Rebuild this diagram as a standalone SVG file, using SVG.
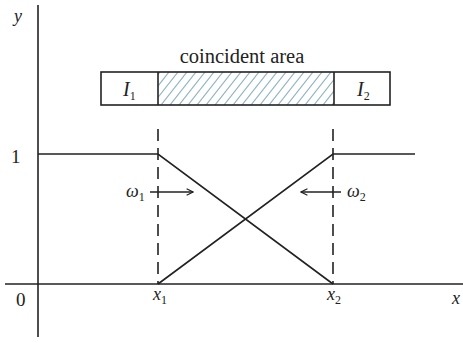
<svg xmlns="http://www.w3.org/2000/svg" width="463" height="343" viewBox="0 0 463 343">
<style>
.ln{stroke:#222;stroke-width:1.6;fill:none}
.ds{stroke:#222;stroke-width:1.6;fill:none;stroke-dasharray:12 7}
.t{font-family:"Liberation Serif","DejaVu Serif",serif;fill:#222}
.it{font-family:"Liberation Serif","DejaVu Serif",serif;font-style:italic;fill:#222}
.h{stroke:#8fb3c4;stroke-width:1.2}
</style>
<defs>
<marker id="ah" viewBox="0 0 10 10" refX="9" refY="5" markerWidth="8" markerHeight="8" orient="auto" markerUnits="userSpaceOnUse">
<path d="M1,1 L9,5 L1,9" fill="none" stroke="#222" stroke-width="1.4"/>
</marker>
<clipPath id="cp"><rect x="158" y="72" width="176" height="33"/></clipPath>
</defs>
<rect width="463" height="343" fill="#fff"/>
<g id="axes">
<line class="ln" x1="38" y1="5" x2="38" y2="337"/>
<line class="ln" x1="5" y1="284" x2="463" y2="284"/>
<text class="it" x="14" y="22" font-size="18">y</text>
<text class="t" x="11" y="163" font-size="19">1</text>
<text class="t" x="16" y="306" font-size="19">0</text>
<text class="it" x="452" y="304" font-size="18">x</text>
<text class="it" x="153" y="300" font-size="18">x<tspan font-size="12" font-style="normal" dy="4">1</tspan></text>
<text class="it" x="327" y="300" font-size="18">x<tspan font-size="12" font-style="normal" dy="4">2</tspan></text>
</g>
<g id="bar">
<text class="t" x="242" y="63" font-size="20.5" text-anchor="middle">coincident area</text>
<g clip-path="url(#cp)">
<line class="h" x1="134" y1="105" x2="160" y2="72"/>
<line class="h" x1="143" y1="105" x2="169" y2="72"/>
<line class="h" x1="152" y1="105" x2="178" y2="72"/>
<line class="h" x1="161" y1="105" x2="187" y2="72"/>
<line class="h" x1="170" y1="105" x2="196" y2="72"/>
<line class="h" x1="179" y1="105" x2="205" y2="72"/>
<line class="h" x1="188" y1="105" x2="214" y2="72"/>
<line class="h" x1="197" y1="105" x2="223" y2="72"/>
<line class="h" x1="206" y1="105" x2="232" y2="72"/>
<line class="h" x1="215" y1="105" x2="241" y2="72"/>
<line class="h" x1="224" y1="105" x2="250" y2="72"/>
<line class="h" x1="233" y1="105" x2="259" y2="72"/>
<line class="h" x1="242" y1="105" x2="268" y2="72"/>
<line class="h" x1="251" y1="105" x2="277" y2="72"/>
<line class="h" x1="260" y1="105" x2="286" y2="72"/>
<line class="h" x1="269" y1="105" x2="295" y2="72"/>
<line class="h" x1="278" y1="105" x2="304" y2="72"/>
<line class="h" x1="287" y1="105" x2="313" y2="72"/>
<line class="h" x1="296" y1="105" x2="322" y2="72"/>
<line class="h" x1="305" y1="105" x2="331" y2="72"/>
<line class="h" x1="314" y1="105" x2="340" y2="72"/>
<line class="h" x1="323" y1="105" x2="349" y2="72"/>
<line class="h" x1="332" y1="105" x2="358" y2="72"/>
</g>
<rect class="ln" x="101" y="72" width="289" height="33"/>
<line class="ln" x1="158" y1="72" x2="158" y2="105"/>
<line class="ln" x1="334" y1="72" x2="334" y2="105"/>
<text class="it" x="123" y="96" font-size="20">I<tspan font-size="12" font-style="normal" dy="4">1</tspan></text>
<text class="it" x="357" y="96" font-size="20">I<tspan font-size="12" font-style="normal" dy="4">2</tspan></text>
</g>
<g id="connectors">
<line class="ds" x1="158" y1="129" x2="158" y2="284"/>
<line class="ds" x1="333" y1="129" x2="333" y2="284"/>
<polyline class="ln" points="38,154 158,154 333,284"/>
<polyline class="ln" points="158,284 333,154 415,154"/>
<line class="ln" x1="150" y1="192" x2="193" y2="192" marker-end="url(#ah)"/>
<line class="ln" x1="341" y1="192" x2="301" y2="192" marker-end="url(#ah)"/>
</g>
<g id="labels">
<text class="it" x="126" y="197" font-size="18">ω<tspan font-size="12" font-style="normal" dy="4">1</tspan></text>
<text class="it" x="347" y="197" font-size="18">ω<tspan font-size="12" font-style="normal" dy="4">2</tspan></text>
</g>
</svg>
